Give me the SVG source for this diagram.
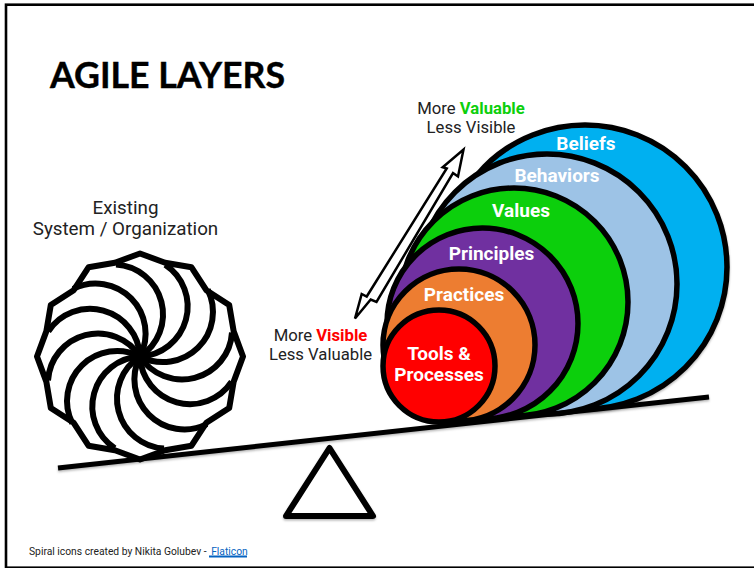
<svg xmlns="http://www.w3.org/2000/svg" width="754" height="568" viewBox="0 0 754 568">
<style>
.frame{fill:#fff;stroke:#000;stroke-width:2.6}
.disc{stroke:#000;stroke-width:5.5}
.lab{font-family:"Roboto","Liberation Sans",sans-serif;font-weight:700;font-size:19px;fill:#fff;text-anchor:middle}
.note{font-family:"Roboto","Liberation Sans",sans-serif;font-size:16.7px;fill:#222;text-anchor:middle}
.sys{font-family:"Roboto","Liberation Sans",sans-serif;font-size:18.8px;fill:#222;text-anchor:middle}
.arc{fill:none;stroke:#000;stroke-width:6}
</style>
<defs>
<path id="sp" class="arc" d="M0 0A50 50 0 0 0 -24 -92"/>
<filter id="sh" x="-5%" y="-5%" width="110%" height="115%"><feDropShadow dx="0" dy="1.5" stdDeviation="1" flood-color="#000" flood-opacity="0.3"/></filter>
</defs>
<rect class="frame" x="6" y="4.7" width="760" height="563"/>
<g id="title"><text x="50" y="88" font-family="Lato, Open Sans, Liberation Sans, sans-serif" font-weight="700" font-size="35.7" fill="#000" stroke="#000" stroke-width="0.4">AGILE LAYERS</text></g>
<g id="spiral" transform="translate(140,356.5)">
<polygon fill="#fff" stroke="#000" stroke-width="6" stroke-linejoin="round" points="0,-103 25.1,-93.7 51.5,-89.2 66.3,-66.3 89.2,-51.5 93.7,-25.1 103,0 93.7,25.1 89.2,51.5 66.3,66.3 51.5,89.2 25.1,93.7 0,103 -25.1,93.7 -51.5,89.2 -66.3,66.3 -89.2,51.5 -93.7,25.1 -103,0 -93.7,-25.1 -89.2,-51.5 -66.3,-66.3 -51.5,-89.2 -25.1,-93.7"/>
<use href="#sp"/><use href="#sp" transform="rotate(30)"/><use href="#sp" transform="rotate(60)"/><use href="#sp" transform="rotate(90)"/><use href="#sp" transform="rotate(120)"/><use href="#sp" transform="rotate(150)"/><use href="#sp" transform="rotate(180)"/><use href="#sp" transform="rotate(210)"/><use href="#sp" transform="rotate(240)"/><use href="#sp" transform="rotate(270)"/><use href="#sp" transform="rotate(300)"/><use href="#sp" transform="rotate(330)"/>
<circle r="8" fill="#000"/>
</g>
<g id="system-label"><text class="sys" x="125.5" y="214">Existing</text><text class="sys" x="125.5" y="235">System / Organization</text></g>
<g id="beliefs"><circle class="disc" cx="585" cy="267" r="142" fill="#00b0f0" filter="url(#sh)"/><text class="lab" x="586" y="150">Beliefs</text></g>
<g id="behaviors"><circle class="disc" cx="547" cy="284" r="130" fill="#9dc3e6"/><text class="lab" x="557" y="182">Behaviors</text></g>
<g id="values"><circle class="disc" cx="514" cy="302" r="114" fill="#0ccf0c"/><text class="lab" x="521" y="217">Values</text></g>
<g id="principles"><circle class="disc" cx="482.5" cy="323.5" r="95.5" fill="#7030a0"/><text class="lab" x="491.5" y="260">Principles</text></g>
<g id="practices"><circle class="disc" cx="459" cy="345" r="76" fill="#ed7d31"/><text class="lab" x="464" y="301">Practices</text></g>
<g id="tools"><circle class="disc" cx="439" cy="366" r="56" fill="#f00"/><text class="lab" x="439" y="360">Tools &amp;</text><text class="lab" x="439" y="381">Processes</text></g>
<g id="connectors">
<polygon points="463.5,149.5 458,176.5 453,173 376.5,302 370.7,299.5 355,318.5 361.7,294 366.7,296.5 446.7,168.5 442.7,167.3" fill="#fff" stroke="#000" stroke-width="2.5"/>
<line x1="58" y1="468" x2="709" y2="397" stroke="#000" stroke-width="5" filter="url(#sh)"/>
</g>
<g id="fulcrum"><polygon points="329.5,448 373,516 286,516" fill="#fff" stroke="#000" stroke-width="6" stroke-linejoin="round" filter="url(#sh)"/></g>
<g id="top-note"><text class="note" x="471" y="114">More <tspan font-weight="700" fill="#0ccf0c">Valuable</tspan></text><text class="note" x="471" y="133">Less Visible</text></g>
<g id="bottom-note"><text class="note" x="320.5" y="341">More <tspan font-weight="700" fill="#f00">Visible</tspan></text><text class="note" x="320.5" y="360">Less Valuable</text></g>
<g id="credit"><text x="29" y="555" font-family="Roboto, Liberation Sans, sans-serif" font-size="10.3" fill="#222">Spiral icons created by Nikita Golubev - <tspan dx="2" fill="#0563c1">Flaticon</tspan></text><line x1="209" y1="556.5" x2="247" y2="556.5" stroke="#0563c1" stroke-width="2"/></g>
</svg>
